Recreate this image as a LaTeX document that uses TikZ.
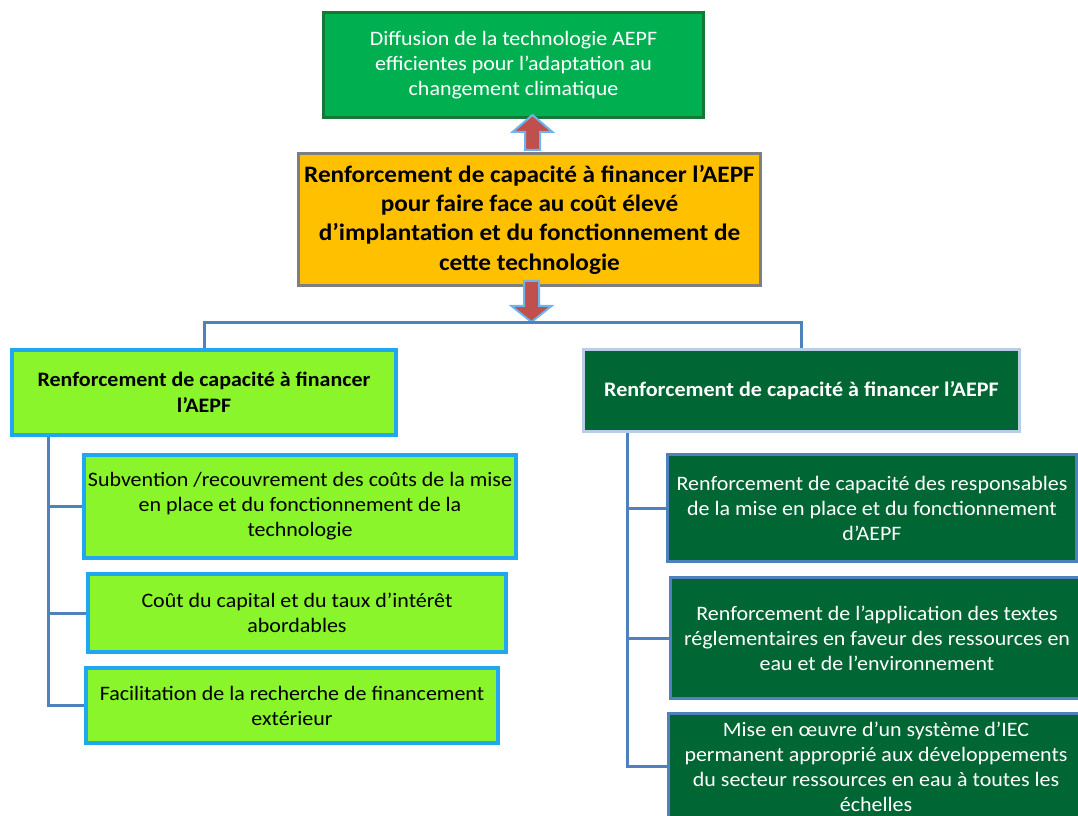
\documentclass[tikz,border=0pt]{standalone}
\usepackage{fontspec}
\setmainfont{Carlito}[FakeStretch=1.07]
\usetikzlibrary{calc}
\definecolor{topgreen}{HTML}{00B050}
\definecolor{topedge}{HTML}{127A36}
\definecolor{amber}{HTML}{FFC000}
\definecolor{amberedge}{HTML}{7F7F7F}
\definecolor{lime}{HTML}{8AF52B}
\definecolor{skyedge}{HTML}{1FA7F0}
\definecolor{forest}{HTML}{006633}
\definecolor{paleedge}{HTML}{B9CDE5}
\definecolor{steel}{HTML}{4F81BD}
\definecolor{brick}{HTML}{C0504D}
\definecolor{arrowedge}{HTML}{6CB4EE}
\begin{document}
\begin{tikzpicture}[x=0.75pt,y=-0.75pt,
  box/.style={rectangle, anchor=north west, inner sep=0pt, align=center,
    font=\fontsize{15.4}{18.75}\selectfont},
  goalbox/.style={box, fill=topgreen, draw=topedge, line width=2.25pt, text=white},
  corebox/.style={box, fill=amber, draw=amberedge, line width=2.25pt,
    font=\bfseries\fontsize{17.7}{22}\selectfont},
  limehead/.style={box, fill=lime, draw=skyedge, line width=3pt,
    font=\bfseries\fontsize{15.4}{19.5}\selectfont},
  limeitem/.style={box, fill=lime, draw=skyedge, line width=3pt},
  foresthead/.style={box, fill=forest, draw=paleedge, line width=2.25pt, text=white,
    font=\bfseries\fontsize{15.5}{19.5}\selectfont},
  forestitem/.style={box, fill=forest, draw=steel, line width=2.25pt, text=white},
  conn/.style={draw=steel, line width=2.25pt},
  blockarrow/.style={fill=brick, draw=arrowedge, line width=1.5pt, line join=miter}
]
\useasboundingbox (0,0) rectangle (1078,816);

% goal and core problem
\node[goalbox, minimum width=285pt, minimum height=78.75pt] (T) at (322,11)
  {Diffusion de la technologie AEPF\\efficientes pour l’adaptation au\\changement climatique};
\node[corebox, minimum width=346.5pt, minimum height=99pt] (Y) at (297,152)
  {Renforcement de capacité à financer l’AEPF\\pour faire face au coût élevé\\d’implantation et du fonctionnement de\\cette technologie};

% branch headers
\node[limehead, minimum width=288pt, minimum height=63.75pt] (L0) at (10,348)
  {Renforcement de capacité à financer\\l’AEPF};
\node[foresthead, minimum width=327pt, minimum height=61.5pt] (R0) at (582,348)
  {Renforcement de capacité à financer l’AEPF};

% left branch items
\node[limeitem, minimum width=324pt, minimum height=77.25pt] (L1) at (82,453)
  {Subvention\ /recouvrement\ des coûts de la mise\\en place et du fonctionnement\ de la\\technologie};
\node[limeitem, minimum width=313.5pt, minimum height=58.5pt] (L2) at (86,572)
  {Coût du capital et du taux d’intérêt\\abordables};
\node[limeitem, minimum width=309pt, minimum height=56.25pt] (L3) at (84,666)
  {Facilitation de la recherche de financement\\extérieur};

% right branch items
\node[forestitem, minimum width=306.75pt, minimum height=80.25pt] (R1) at (666,453)
  {Renforcement de capacité des responsables\\de la mise en place et du fonctionnement\\d’AEPF};
\node[forestitem, minimum width=309.75pt, minimum height=90.75pt] (R2) at (669,576)
  {Renforcement de l’application des textes\\réglementaires en faveur des ressources en\\eau et de l’environnement};
\node[forestitem, minimum width=311.25pt, minimum height=79.5pt] (R3) at (667,712)
  {Mise en œuvre d’un système d’IEC\\permanent approprié aux développements\\du secteur ressources en eau à toutes les\\échelles};

% block arrows
\coordinate (ua) at ($(Y.north)+(3,-2)$);
\draw[blockarrow] ($(ua)+(-7.5,0)$) -- ($(ua)+(-7.5,-18)$) -- ($(ua)+(-20,-18)$)
  -- ($(T.south -| ua)+(0,-4)$) -- ($(ua)+(20,-18)$) -- ($(ua)+(7.5,-18)$)
  -- ($(ua)+(7.5,0)$) -- cycle;
\coordinate (da) at ($(Y.south)+(2,-6)$);
\coordinate (hub) at ($(L0.north)+(0,-25)$);
\draw[blockarrow] ($(da)+(-7.5,0)$) -- ($(da)+(-7.5,25)$) -- ($(da)+(-20,25)$)
  -- ($(hub -| da)+(0,-1)$) -- ($(da)+(20,25)$) -- ($(da)+(7.5,25)$)
  -- ($(da)+(7.5,0)$) -- cycle;

% connectors
\draw[conn] (L0.north) -- (hub) -| (R0.north);
\coordinate (ls) at ($(L0.south west)+(38,0)$);
\draw[conn] (ls) |- (L3.west);
\draw[conn] (ls) |- (L1.west);
\draw[conn] (ls) |- (L2.west);
\coordinate (rs) at ($(R0.south west)+(45,0)$);
\draw[conn] (rs) |- (R3.west);
\draw[conn] (rs) |- (R1.west);
\draw[conn] (rs) |- (R2.west);
\end{tikzpicture}
\end{document}
